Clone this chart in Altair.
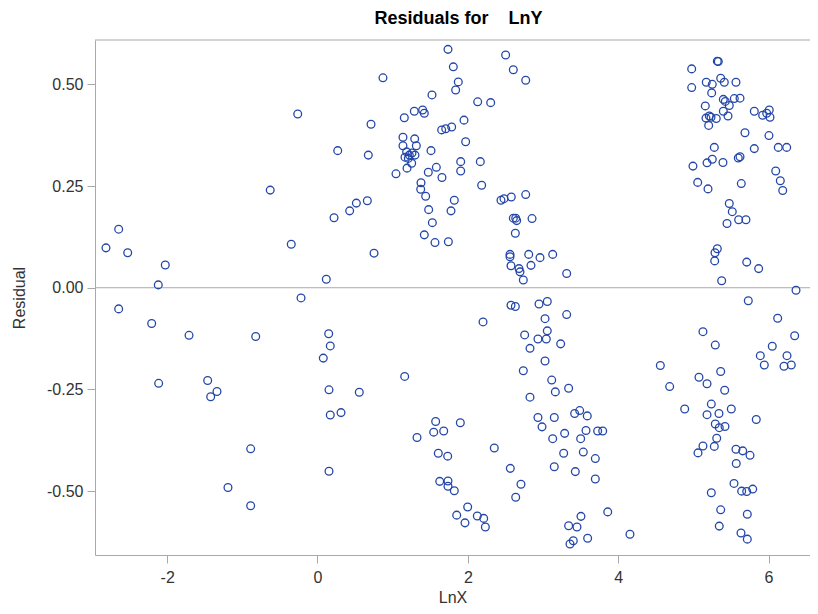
import altair as alt
import pandas as pd

lnx = [
    -0.629, -2.645, -2.814, -2.525, -2.025, -2.118,
    1.736, 1.807, 1.873, 1.838, 0.871, 1.523, -0.263, 1.288, 1.399, 1.421, 1.155, 0.712,
    1.652, 1.706, 1.785, 1.137, 1.293, 1.137, 1.315, 1.186, 1.221, 1.164, 1.257, 1.297,
    1.208, 1.510, 0.269, 0.676, 1.253, 1.191, 1.044, 1.581, 1.474, 1.656, 1.377, 1.373,
    1.439, 0.663, 0.517, 0.428, 0.220, 1.479, 1.528, 1.421, 1.563, 1.741, -0.349, 0.752,
    0.117, -0.219,
    2.131, 2.304, 1.949, 1.971, 1.905, 1.905, 2.166, 2.184, 1.820, 1.776,
    2.503, 2.605, 2.770, 2.441, 2.481, 2.578, 2.770, 2.605, 2.637, 2.650, 2.854, 2.632,
    2.561, 2.561, 2.810, 2.960, 3.129, 2.574, 2.681, 2.694, 2.840, 2.738, 3.315,
    5.319, 5.332, 4.978, 4.978, 5.172, 5.252, 5.244, 5.364, 5.412, 5.567, 5.399, 5.425,
    5.545, 5.621, 5.159, 5.478, 5.399, 5.461, 5.168, 5.212, 5.235, 5.305, 5.204, 5.811,
    5.922, 5.976, 6.010, 6.020, 5.687, 6.006, 5.279, 5.811, 6.130, 6.242, 5.182, 5.252,
    5.394, 4.995, 5.598, 5.621, 6.096, 6.157, 6.189, 5.058, 5.195, 5.638, 5.478, 5.518,
    5.448, 5.603, 5.700, 5.319, 5.288, 5.284, 5.710, 5.869, 5.377, 6.622, 6.366, 5.731,
    -2.645, -2.206, -1.709, -0.822, -2.113, -1.461, -1.337, -1.421, -0.889, -1.191, -0.889,
    0.149, 0.170, 0.077, 1.160, 0.153, 0.556, 0.170, 0.313, 1.572, 1.546, 1.679, 1.324,
    1.607, 1.732, 0.153, 1.626, 1.736, 1.736, 1.820, 1.852, 1.900,
    2.574, 2.632, 2.947, 3.057, 2.202, 3.315, 3.027, 3.057, 2.756, 2.933, 3.044, 3.235,
    2.827, 3.027, 2.738, 3.116, 3.164, 3.341, 2.827, 2.933, 3.150, 2.987, 3.421, 3.488,
    3.589, 3.288, 3.129, 3.572, 3.501, 3.727, 3.794, 2.352, 3.275, 3.536, 3.696, 3.150,
    3.430, 3.696, 2.565, 2.707, 2.637, 1.998, 1.962, 2.126, 2.211, 2.233, 3.861, 3.505,
    3.341, 3.452, 3.594, 3.359, 3.403, 4.157,
    6.122, 6.348, 5.128, 5.292, 6.050, 5.891, 5.944, 6.246, 6.206, 6.303, 4.561, 5.364,
    5.075, 5.182, 4.685, 5.417, 4.885, 5.239, 5.182, 5.341, 5.505, 5.837, 5.292, 5.345,
    5.421, 5.311, 5.128, 5.062, 5.279, 5.567, 5.657, 5.754, 5.571, 5.541, 5.239, 5.643,
    5.710, 5.790, 5.364, 5.718, 5.345, 5.634, 5.718,
]

resid = [
    0.240, 0.144, 0.098, 0.086, 0.056, 0.007,
    0.586, 0.543, 0.506, 0.486, 0.516, 0.474, 0.427, 0.434, 0.437, 0.429, 0.418, 0.402,
    0.388, 0.391, 0.395, 0.370, 0.366, 0.349, 0.349, 0.334, 0.326, 0.321, 0.331, 0.326,
    0.318, 0.337, 0.337, 0.326, 0.306, 0.294, 0.280, 0.296, 0.284, 0.271, 0.258, 0.242,
    0.225, 0.214, 0.208, 0.189, 0.172, 0.192, 0.160, 0.130, 0.111, 0.113, 0.107, 0.085,
    0.021, -0.025,
    0.457, 0.455, 0.412, 0.359, 0.310, 0.287, 0.310, 0.252, 0.215, 0.189,
    0.572, 0.536, 0.510, 0.215, 0.219, 0.223, 0.229, 0.171, 0.171, 0.165, 0.170, 0.134,
    0.082, 0.076, 0.082, 0.074, 0.082, 0.054, 0.047, 0.039, 0.055, 0.019, 0.035,
    0.557, 0.556, 0.538, 0.492, 0.505, 0.500, 0.479, 0.515, 0.505, 0.505, 0.463, 0.458,
    0.465, 0.466, 0.447, 0.448, 0.434, 0.422, 0.417, 0.422, 0.419, 0.416, 0.399, 0.434,
    0.424, 0.429, 0.437, 0.419, 0.381, 0.374, 0.345, 0.342, 0.345, 0.345, 0.307, 0.316,
    0.308, 0.299, 0.319, 0.322, 0.287, 0.263, 0.239, 0.259, 0.243, 0.256, 0.207, 0.187,
    0.158, 0.167, 0.167, 0.096, 0.086, 0.066, 0.063, 0.047, 0.017, 0.015, -0.006, -0.032,
    -0.052, -0.088, -0.117, -0.120, -0.235, -0.228, -0.255, -0.268, -0.396, -0.491, -0.536,
    -0.113, -0.143, -0.173, -0.218, -0.251, -0.257, -0.313, -0.307, -0.329, -0.355, -0.352, -0.368,
    -0.407, -0.414, -0.451, -0.476, -0.475, -0.488, -0.499, -0.559, -0.332,
    -0.043, -0.046, -0.040, -0.034, -0.084, -0.066, -0.076, -0.106, -0.116, -0.126, -0.126, -0.138,
    -0.149, -0.180, -0.204, -0.227, -0.256, -0.247, -0.269, -0.319, -0.319, -0.342, -0.309, -0.302,
    -0.315, -0.358, -0.371, -0.351, -0.371, -0.352, -0.352, -0.394, -0.407, -0.404, -0.420, -0.440,
    -0.452, -0.470, -0.444, -0.483, -0.515, -0.539, -0.578, -0.561, -0.567, -0.588, -0.551, -0.562,
    -0.585, -0.588, -0.616, -0.630, -0.622, -0.606,
    -0.075, -0.118, -0.108, -0.141, -0.144, -0.167, -0.190, -0.167, -0.193, -0.190, -0.191, -0.206,
    -0.220, -0.236, -0.243, -0.252, -0.298, -0.286, -0.312, -0.309, -0.298, -0.324, -0.335, -0.344,
    -0.341, -0.370, -0.389, -0.406, -0.390, -0.397, -0.401, -0.412, -0.432, -0.481, -0.504, -0.500,
    -0.501, -0.495, -0.546, -0.557, -0.586, -0.603, -0.618,
]

x_ticks = [-2, 0, 2, 4, 6]
y_ticks = [-0.5, -0.25, 0.0, 0.25, 0.5]
ref_line = [0.0]

df = pd.DataFrame({"LnX": lnx, "Residual": resid})
ref = pd.DataFrame({"Residual": ref_line})

GREY = "#a9a9a9"
TEXT = "#333333"
FONT = "Liberation Sans"
W, H = 715, 515

x_scale = alt.Scale(domain=[-2.960, 6.552], nice=False, zero=False)
y_scale = alt.Scale(domain=[-0.657, 0.609], nice=False, zero=False)

x_axis = alt.Axis(
    values=x_ticks, title="LnX", grid=False, labelPadding=6, titlePadding=4,
    labelExpr="datum.value < 0 ? '-' + format(-datum.value, 'd') : format(datum.value, 'd')",
)
y_axis = alt.Axis(
    values=y_ticks, title="Residual", grid=False, labelPadding=4, titlePadding=19,
    labelExpr="datum.value < 0 ? '-' + format(-datum.value, '.2f') : format(datum.value, '.2f')",
)

rule = alt.Chart(ref).mark_rule(color=GREY, strokeWidth=1).encode(
    y=alt.Y("Residual:Q", scale=y_scale, axis=y_axis)
)

top_border = alt.Chart(ref).mark_rule(color=GREY, strokeWidth=1).encode(
    x=alt.value(0), x2=alt.value(W), y=alt.value(0)
)

points = alt.Chart(df).mark_point(
    shape="circle", filled=False, size=60, strokeWidth=1.3,
    color="#2346a8", opacity=1
).encode(
    x=alt.X("LnX:Q", scale=x_scale, axis=x_axis),
    y=alt.Y("Residual:Q", scale=y_scale, axis=y_axis),
)

chart = alt.layer(top_border, rule, points).properties(
    width=W,
    height=H,
    autosize=alt.AutoSizeParams(type="none"),
    padding={"left": 87, "top": 32, "right": 0, "bottom": 51},
    title=alt.TitleParams(
        "Residuals for \u00a0\u00a0\u00a0LnY",
        fontSize=18, fontWeight="bold", font=FONT, color="black",
        offset=12, anchor="middle", dx=6,
    ),
).configure_view(
    strokeWidth=0
).configure_axis(
    domainColor=GREY, tickColor=GREY, tickSize=8,
    labelFont=FONT, titleFont=FONT, labelFontSize=16, titleFontSize=16,
    labelColor=TEXT, titleColor=TEXT, titleFontWeight="normal",
)

chart.save("out.html", embed_options={"renderer": "svg", "actions": False})
